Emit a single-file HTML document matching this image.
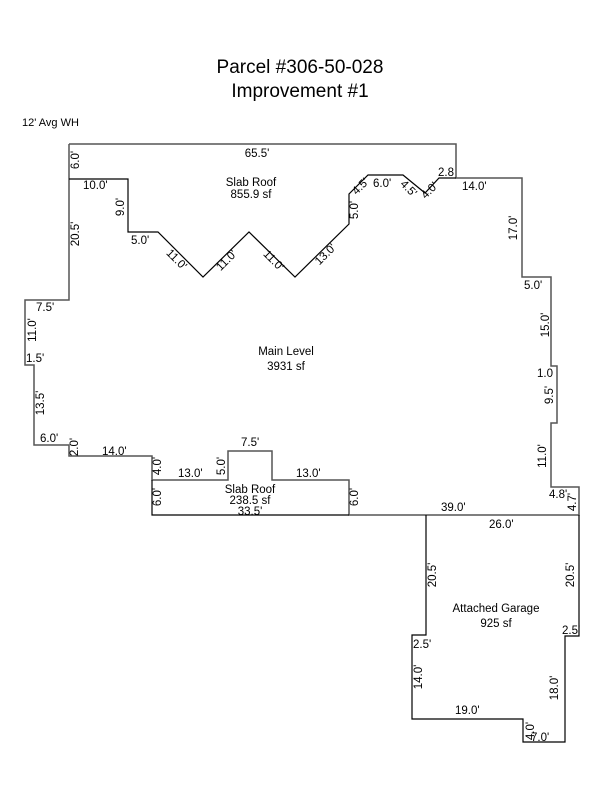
<!DOCTYPE html>
<html><head><meta charset="utf-8"><style>
html,body{margin:0;padding:0;background:#fff;width:600px;height:800px;overflow:hidden}
svg text{font-family:"Liberation Sans",Arial,sans-serif;fill:#000}
</style></head><body>
<svg width="600" height="800" viewBox="0 0 600 800" xmlns="http://www.w3.org/2000/svg">
<text x="300" y="73" font-size="19" text-anchor="middle">Parcel #306-50-028</text>
<text x="300" y="97" font-size="19" text-anchor="middle">Improvement #1</text>
<text x="22" y="126" font-size="11">12' Avg WH</text>
<g fill="none" stroke-linejoin="miter">
<polyline stroke="#555" stroke-width="1.5" points="69,144 456,144 456,178 522,178 522,277 551,277 551,366 557,366 557,423 551,423 551,487 579,487 579,515 349,515 349,480 272,480 272,451 228,451 228,480 152,480 152,456 69,456 69,445 34,445 34,365 25,365 25,300 69,300 69,144"/>
<polyline stroke="#000" stroke-width="1.2" points="69,179 128,179 128,232 158,232 203,277 249,232 295,277 349,224 349,194 368,175 403,175 425,193 439,178 456,178"/>
<polyline stroke="#000" stroke-width="1.2" points="152,480 152,515 349,515"/>
<polyline stroke="#000" stroke-width="1.2" points="426,515 426,635 412,635 412,719 523,719 523,742 565,742 565,636 579,636 579,515"/>
</g>
<g font-size="11.5">
<text x="257" y="157" text-anchor="middle">65.5'</text>
<text x="251" y="186" text-anchor="middle">Slab Roof</text>
<text x="251" y="198" text-anchor="middle">855.9 sf</text>
<text x="83" y="189">10.0'</text>
<text x="131" y="244">5.0'</text>
<text x="438" y="176">2.8</text>
<text x="462" y="190">14.0'</text>
<text x="373" y="187">6.0'</text>
<text x="524" y="289">5.0'</text>
<text x="36" y="311">7.5'</text>
<text x="26" y="362">1.5'</text>
<text x="537" y="377">1.0</text>
<text x="40" y="442">6.0'</text>
<text x="102" y="455">14.0'</text>
<text x="241" y="446">7.5'</text>
<text x="178" y="477">13.0'</text>
<text x="296" y="477">13.0'</text>
<text x="250" y="493" text-anchor="middle">Slab Roof</text>
<text x="250" y="504" text-anchor="middle">238.5 sf</text>
<text x="250" y="515" text-anchor="middle">33.5'</text>
<text x="441" y="511">39.0'</text>
<text x="549" y="498">4.8'</text>
<text x="489" y="528">26.0'</text>
<text x="286" y="355" text-anchor="middle">Main Level</text>
<text x="286" y="370" text-anchor="middle">3931 sf</text>
<text x="496" y="612" text-anchor="middle">Attached Garage</text>
<text x="496" y="627" text-anchor="middle">925 sf</text>
<text x="562" y="634">2.5'</text>
<text x="413" y="648">2.5'</text>
<text x="455" y="714">19.0'</text>
<text x="531" y="741">7.0'</text>
<!-- vertical -->
<text transform="translate(79,160) rotate(-90)" text-anchor="middle">6.0'</text>
<text transform="translate(79,234) rotate(-90)" text-anchor="middle">20.5'</text>
<text transform="translate(124,207) rotate(-90)" text-anchor="middle">9.0'</text>
<text transform="translate(36,330) rotate(-90)" text-anchor="middle">11.0'</text>
<text transform="translate(44,403) rotate(-90)" text-anchor="middle">13.5'</text>
<text transform="translate(78,447) rotate(-90)" text-anchor="middle">2.0'</text>
<text transform="translate(161,466) rotate(-90)" text-anchor="middle">4.0'</text>
<text transform="translate(161,497) rotate(-90)" text-anchor="middle">6.0'</text>
<text transform="translate(225,466) rotate(-90)" text-anchor="middle">5.0'</text>
<text transform="translate(358,497) rotate(-90)" text-anchor="middle">6.0'</text>
<text transform="translate(358,210) rotate(-90)" text-anchor="middle">5.0'</text>
<text transform="translate(517,228) rotate(-90)" text-anchor="middle">17.0'</text>
<text transform="translate(549,325) rotate(-90)" text-anchor="middle">15.0'</text>
<text transform="translate(553,395) rotate(-90)" text-anchor="middle">9.5'</text>
<text transform="translate(546,456) rotate(-90)" text-anchor="middle">11.0'</text>
<text transform="translate(576,502) rotate(-90)" text-anchor="middle">4.7'</text>
<text transform="translate(436,575) rotate(-90)" text-anchor="middle">20.5'</text>
<text transform="translate(574,575) rotate(-90)" text-anchor="middle">20.5'</text>
<text transform="translate(422,677) rotate(-90)" text-anchor="middle">14.0'</text>
<text transform="translate(558,688) rotate(-90)" text-anchor="middle">18.0'</text>
<text transform="translate(534,731) rotate(-90)" text-anchor="middle">4.0'</text>
<!-- diagonal -->
<text transform="translate(174,262) rotate(45)" text-anchor="middle">11.0'</text>
<text transform="translate(229,263) rotate(-45)" text-anchor="middle">11.0'</text>
<text transform="translate(271,263) rotate(45)" text-anchor="middle">11.0'</text>
<text transform="translate(328,257) rotate(-45)" text-anchor="middle">13.0'</text>
<text transform="translate(363,189) rotate(-45)" text-anchor="middle">4.5'</text>
<text transform="translate(406,191) rotate(45)" text-anchor="middle">4.5'</text>
<text transform="translate(432,193) rotate(-45)" text-anchor="middle">4.0'</text>
</g>
</svg>
</body></html>
